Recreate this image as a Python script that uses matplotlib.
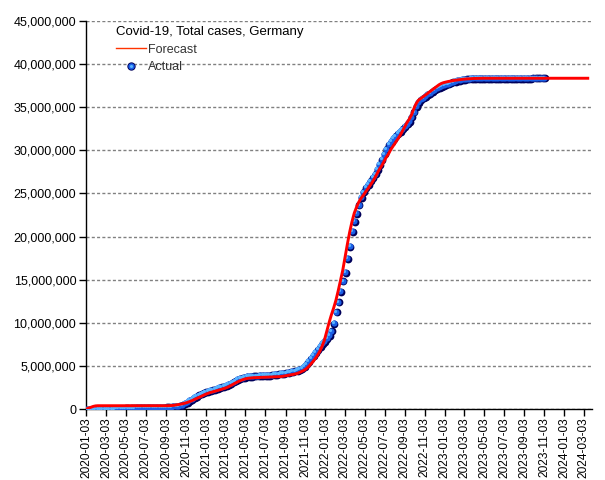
import numpy as np
import pandas as pd
import matplotlib
matplotlib.use("Agg")
import matplotlib.pyplot as plt
import matplotlib.dates as mdates
import matplotlib.transforms as mtransforms
from matplotlib.lines import Line2D
from matplotlib.legend_handler import HandlerTuple
from matplotlib.ticker import FuncFormatter, MultipleLocator

plt.rcParams['font.family'] = ['Liberation Sans', 'DejaVu Sans']

title = "Covid-19, Total cases, Germany"
series_names = ["Forecast", "Actual"]
start_date = "2020-01-03"

# Weekly actual total cases (millions), starting 2020-01-03
actual = [
    0, 0, 0, 0, 0, 0, 0, 0, 0, 0,
    0.01, 0.02, 0.05, 0.08, 0.10, 0.12, 0.13, 0.14, 0.15, 0.16,
    0.17, 0.17, 0.18, 0.18, 0.18, 0.19, 0.19, 0.19, 0.20, 0.20,
    0.20, 0.22, 0.23, 0.24, 0.25, 0.26, 0.27, 0.28, 0.30, 0.32,
    0.36, 0.42, 0.52, 0.66, 0.82, 1.00, 1.18, 1.35, 1.50, 1.65,
    1.78, 1.90, 2.00, 2.10, 2.18, 2.26, 2.34, 2.42, 2.50, 2.58,
    2.67, 2.78, 2.90, 3.03, 3.17, 3.30, 3.43, 3.55, 3.65, 3.73,
    3.78, 3.82, 3.84, 3.86, 3.87, 3.88, 3.89, 3.90, 3.91, 3.93,
    3.95, 3.98, 4.01, 4.05, 4.09, 4.13, 4.18, 4.23, 4.28, 4.33,
    4.38, 4.44, 4.52, 4.62, 4.76, 4.98, 5.25, 5.55, 5.90, 6.25,
    6.60, 6.95, 7.30, 7.60, 7.90, 8.20, 8.55, 9.10, 9.94, 11.30,
    12.45, 13.70, 14.90, 15.90, 17.50, 18.90, 20.60, 21.80, 22.70, 23.70,
    24.60, 25.20, 25.70, 26.10, 26.50, 26.90, 27.30, 27.80, 28.40, 29.00,
    29.60, 30.20, 30.70, 31.10, 31.40, 31.70, 32.00, 32.20, 32.50, 32.80,
    33.10, 33.40, 33.90, 34.50, 35.10, 35.60, 35.90, 36.10, 36.30, 36.50,
    36.65, 36.85, 37.05, 37.20, 37.35, 37.45, 37.55, 37.65, 37.75, 37.85,
    37.95, 38.05, 38.12, 38.18, 38.24, 38.28, 38.31, 38.33, 38.34, 38.35,
    38.35, 38.36, 38.36, 38.37, 38.37, 38.37, 38.38, 38.38, 38.38, 38.38,
    38.39, 38.39, 38.39, 38.39, 38.40, 38.40, 38.40, 38.40, 38.40, 38.41,
    38.41, 38.41, 38.41, 38.41, 38.41, 38.42, 38.42, 38.42, 38.42, 38.42,
    38.42,
]

# Weekly forecast total cases (millions), starting 2020-01-03
forecast = [
    0, 0.10, 0.20, 0.30, 0.36, 0.38, 0.38, 0.38, 0.38, 0.38,
    0.38, 0.38, 0.38, 0.38, 0.38, 0.38, 0.38, 0.38, 0.38, 0.38,
    0.38, 0.38, 0.38, 0.38, 0.38, 0.38, 0.38, 0.38, 0.38, 0.38,
    0.38, 0.38, 0.38, 0.38, 0.38, 0.38, 0.38, 0.40, 0.42, 0.46,
    0.50, 0.55, 0.60, 0.67, 0.75, 0.85, 0.95, 1.07, 1.20, 1.32,
    1.45, 1.58, 1.70, 1.80, 1.90, 1.98, 2.05, 2.12, 2.20, 2.28,
    2.36, 2.45, 2.56, 2.70, 2.85, 3.00, 3.13, 3.26, 3.37, 3.46,
    3.53, 3.58, 3.61, 3.63, 3.64, 3.65, 3.66, 3.67, 3.67, 3.68,
    3.69, 3.70, 3.71, 3.73, 3.75, 3.76, 3.80, 3.85, 3.90, 3.95,
    4.00, 4.05, 4.12, 4.22, 4.35, 4.48, 4.65, 4.90, 5.20, 5.50,
    5.85, 6.25, 6.70, 7.30, 8.00, 9.00, 10.00, 10.90, 11.70, 12.60,
    13.70, 14.90, 16.10, 17.60, 19.10, 20.50, 21.70, 22.70, 23.40, 24.00,
    24.45, 24.80, 25.20, 25.55, 25.95, 26.35, 26.80, 27.30, 27.80, 28.20,
    28.70, 29.20, 29.60, 30.10, 30.50, 30.90, 31.30, 31.70, 32.20, 32.70,
    33.20, 33.60, 34.10, 34.80, 35.40, 35.80, 36.00, 36.20, 36.40, 36.60,
    36.80, 37.00, 37.20, 37.40, 37.60, 37.75, 37.85, 37.92, 37.98, 38.03,
    38.08, 38.12, 38.16, 38.20, 38.23, 38.26, 38.28, 38.30, 38.32, 38.33,
    38.34, 38.35, 38.35, 38.36, 38.36, 38.36, 38.36, 38.36, 38.36, 38.36,
    38.36, 38.36, 38.36, 38.36, 38.36, 38.36, 38.36, 38.36, 38.36, 38.36,
    38.36, 38.36, 38.36, 38.36, 38.36, 38.36, 38.36, 38.36, 38.36, 38.36,
    38.36, 38.36, 38.36, 38.36, 38.36, 38.36, 38.36, 38.36, 38.36, 38.36,
    38.36, 38.36, 38.36, 38.36, 38.36, 38.36, 38.36, 38.36, 38.36, 38.36,
]

x_actual = pd.date_range(start_date, periods=len(actual), freq="7D")
x_forecast = pd.date_range(start_date, periods=len(forecast), freq="7D")
y_actual = np.array(actual) * 1e6
y_forecast = np.array(forecast) * 1e6

fig = plt.figure(figsize=(6.05, 4.8), dpi=100)
ax = fig.add_axes([86 / 605, 1 - 409 / 480, 506 / 605, 388 / 480])

# sphere-like markers: dark base, blue body, light highlight
off_dark = mtransforms.ScaledTranslation(0.7 / 100, -0.7 / 100, fig.dpi_scale_trans)
off_light = mtransforms.ScaledTranslation(-1.0 / 100, 1.0 / 100, fig.dpi_scale_trans)
ax.plot(x_actual, y_actual, linestyle="none", marker="o", markersize=5.6,
        markerfacecolor="#00005a", markeredgewidth=0, zorder=3,
        transform=ax.transData + off_dark)
ax.plot(x_actual, y_actual, linestyle="none", marker="o", markersize=4.4,
        markerfacecolor="#1b5fe6", markeredgewidth=0, zorder=4)
ax.plot(x_actual, y_actual, linestyle="none", marker="o", markersize=2.3,
        markerfacecolor="#5ab4ff", markeredgewidth=0, zorder=5,
        transform=ax.transData + off_light)

ax.plot(x_forecast, y_forecast, color="#ff0000", linewidth=2.1, zorder=6,
        solid_joinstyle="miter")

ax.set_xlim(pd.Timestamp("2020-01-02"), pd.Timestamp("2024-03-28"))
ax.set_ylim(0, 45e6)
ax.yaxis.set_major_locator(MultipleLocator(5e6))
ax.yaxis.set_major_formatter(FuncFormatter(lambda v, p: f"{v:,.0f}"))
ax.xaxis.set_major_locator(mdates.MonthLocator(bymonth=[1, 3, 5, 7, 9, 11], bymonthday=3))
ax.xaxis.set_major_formatter(mdates.DateFormatter("%Y-%m-%d"))
plt.setp(ax.get_xticklabels(), rotation=90)

ax.grid(axis="y", color="#808080", linestyle=(0, (2.2, 1.6)), linewidth=1.0)
ax.set_axisbelow(True)
for s in ["top", "right"]:
    ax.spines[s].set_visible(False)
for s in ["left", "bottom"]:
    ax.spines[s].set_linewidth(1.0)
    ax.spines[s].set_color("black")
ax.tick_params(axis="y", direction="out", length=5, width=1, labelsize=9,
               colors="black", pad=2)
ax.tick_params(axis="x", direction="out", length=5, width=1, labelsize=8.6,
               colors="black", pad=1)

h_fore = Line2D([], [], color="#ff3300", linewidth=1.0)
h_a1 = Line2D([], [], linestyle="none", marker="o", markersize=6.0,
              markerfacecolor="#00005a", markeredgewidth=0)
h_a2 = Line2D([], [], linestyle="none", marker="o", markersize=4.6,
              markerfacecolor="#1b5fe6", markeredgewidth=0)
h_a3 = Line2D([], [], linestyle="none", marker="o", markersize=2.2,
              markerfacecolor="#5ab4ff", markeredgewidth=0)
leg = ax.legend([h_fore, (h_a1, h_a2, h_a3)], series_names,
                handler_map={tuple: HandlerTuple(ndivide=1)},
                title=title, loc="upper left", bbox_to_anchor=(0.05, 1.0),
                frameon=False, fontsize=9, title_fontsize=9.5, alignment="left",
                handlelength=2.35, handletextpad=0.2, labelspacing=0.45,
                borderaxespad=0.0)
for t in leg.get_texts():
    t.set_color("#333333")

fig.savefig("out.png", dpi=100)
